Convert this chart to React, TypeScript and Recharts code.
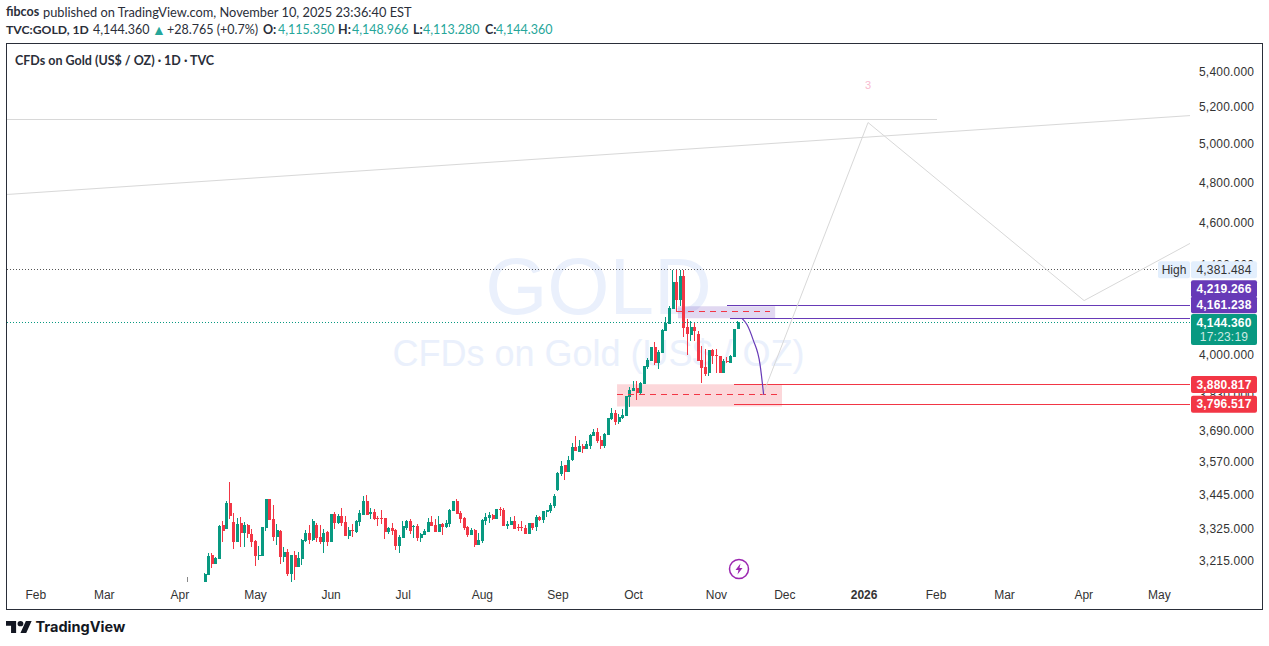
import React from "react";
import { ComposedChart, Bar, Line, XAxis, YAxis, ReferenceLine, ReferenceArea } from "recharts";

const opens = [3146,3169,3237,3206,3223,3341,3327,3420,3351,3282,3348,3313,3341,3310,3285,3233,3233,3331,3434,3362,3299,3320,3230,3247,3172,3237,3196,3223,3285,3313,3289,3341,3299,3282,3317,3282,3380,3348,3373,3351,3303,3324,3317,3351,3379,3430,3380,3387,3366,3366,3366,3317,3331,3324,3268,3296,3331,3355,3334,3337,3296,3306,3317,3351,3341,3317,3344,3334,3344,3391,3427,3384,3366,3334,3306,3324,3271,3285,3355,3366,3377,3362,3398,3394,3337,3341,3355,3334,3334,3331,3310,3348,3334,3369,3359,3387,3391,3409,3470,3526,3560,3537,3579,3632,3612,3636,3624,3636,3671,3687,3656,3636,3675,3738,3762,3726,3742,3750,3826,3851,3863,3846,3881,3951,3976,4036,3968,4010,4104,4134,4201,4323,4241,4351,4121,4087,4121,4091,3980,3951,3926,4023,4002,3998,3926,3976,3968,3993,4115.35];
const highs = [3176,3244,3244,3230,3341,3355,3427,3497,3384,3366,3369,3351,3344,3327,3289,3268,3334,3434,3434,3412,3344,3324,3264,3257,3237,3250,3247,3292,3324,3341,3362,3348,3341,3327,3320,3380,3387,3380,3402,3373,3334,3344,3359,3394,3445,3449,3402,3398,3373,3394,3366,3334,3348,3327,3306,3355,3359,3362,3341,3344,3313,3327,3366,3373,3362,3373,3348,3359,3398,3430,3434,3391,3369,3337,3331,3327,3313,3362,3384,3387,3380,3398,3405,3402,3355,3369,3373,3344,3355,3341,3348,3348,3377,3373,3391,3394,3420,3452,3537,3575,3560,3597,3644,3671,3656,3640,3652,3679,3699,3703,3671,3683,3742,3785,3774,3758,3781,3830,3867,3892,3892,3888,3955,3989,4036,4057,4023,4112,4165,4214,4378,4378,4378,4381,4157,4148,4143,4104,4040,4027,4023,4027,4027,3998,3985,3993,4002,4112,4148.966];
const lows = [3146,3169,3193,3206,3223,3282,3327,3362,3257,3282,3264,3264,3296,3264,3199,3219,3233,3320,3359,3285,3271,3206,3213,3166,3146,3152,3196,3203,3282,3275,3285,3282,3275,3244,3268,3282,3327,3344,3337,3303,3292,3299,3313,3337,3377,3377,3362,3359,3337,3344,3292,3310,3306,3254,3244,3296,3324,3310,3296,3285,3282,3306,3317,3337,3317,3317,3306,3331,3334,3391,3380,3348,3324,3299,3306,3264,3271,3278,3341,3348,3359,3362,3373,3337,3327,3341,3327,3320,3320,3310,3310,3324,3320,3355,3348,3369,3384,3402,3466,3522,3507,3537,3575,3616,3612,3608,3624,3624,3671,3644,3624,3628,3675,3734,3714,3718,3738,3750,3789,3851,3814,3842,3881,3943,3976,3959,3943,4010,4104,4134,4201,4188,4214,4078,4002,4061,4061,3976,3885,3914,3914,3963,3926,3926,3926,3968,3968,3993,4113.28];
const closes = [3172,3233,3206,3226,3337,3320,3420,3373,3282,3344,3313,3341,3310,3282,3233,3237,3334,3434,3359,3299,3324,3230,3247,3172,3237,3196,3226,3289,3313,3289,3355,3296,3282,3313,3282,3380,3348,3373,3348,3303,3324,3320,3355,3384,3430,3377,3387,3362,3362,3362,3317,3331,3320,3268,3299,3337,3355,3320,3337,3296,3310,3320,3351,3337,3317,3344,3334,3348,3394,3427,3380,3362,3331,3306,3324,3271,3289,3359,3369,3377,3362,3398,3394,3337,3344,3355,3327,3331,3331,3310,3348,3331,3369,3359,3391,3394,3412,3445,3530,3556,3537,3582,3632,3616,3636,3624,3640,3675,3687,3652,3636,3679,3742,3762,3726,3746,3754,3830,3855,3863,3846,3884,3955,3980,4036,3968,4015,4108,4139,4205,4323,4241,4351,4117,4091,4121,4104,3976,3947,3922,4023,3998,3998,3926,3976,3972,3998,4112,4144.36];

const rows = opens.map((o, k) => {
  const c = closes[k];
  return { i: k + 1, up: c >= o, wick: [lows[k], highs[k]], body: [Math.min(o, c), Math.max(o, c)] };
});

const monthTicks = [-46, -27, -6, 15, 36, 56, 78, 99, 120, 143, 162, 184, 204, 223, 245, 266];
const monthLabels = ["Feb", "Mar", "Apr", "May", "Jun", "Jul", "Aug", "Sep", "Oct", "Nov", "Dec", "2026", "Feb", "Mar", "Apr", "May"];
const priceTicks = [5400, 5200, 5000, 4800, 4600, 4400, 4000, 3830, 3690, 3570, 3445, 3325, 3215];
const xDomain = [-54, 274.5];
const yDomain = [3142.7, 5560];

const arcPoints = [
  { i: 150.1, arc: 4161 }, { i: 151.5, arc: 4133 }, { i: 153.2, arc: 4067 }, { i: 155.1, arc: 3963 }, { i: 156.1, arc: 3838 },
];
const zigPoints = [
  { i: 155.9, zig: 3838 }, { i: 185.1, zig: 5121 }, { i: 245.1, zig: 4240 }, { i: 274.5, zig: 4505 },
];

const GREEN = "#089981";
const RED = "#f23645";
const PURPLE = "#673ab7";
const GREY = "#d8d8d8";
const TEAL = "#26a69a";
const FONT = "'Liberation Sans', Arial, sans-serif";
const HEAD = "Lato, sans-serif";

const fmt = (v: number) => v.toLocaleString("en-US", { minimumFractionDigits: 3, maximumFractionDigits: 3 });

function Candle(props: any) {
  const { x, y, width, height, up, wide } = props;
  const left = Math.round(x + width / 2 - 1.5);
  const top = Math.round(y);
  const h = Math.max(1, Math.round(y + height) - top);
  return <rect x={wide ? left : left + 1} y={top} width={wide ? 3 : 1} height={h} fill={up ? GREEN : RED} />;
}

function MonthTick({ x, y, payload }: any) {
  const label = monthLabels[monthTicks.indexOf(payload.value)];
  return (
    <text x={x} y={y} dy={8} textAnchor="middle" fontFamily={FONT} fontSize={12} fill="#333" fontWeight={label === "2026" ? 700 : 400}>
      {label}
    </text>
  );
}

function PriceTick({ x, y, payload }: any) {
  return (
    <text x={x + 1} y={y} dy={3} textAnchor="start" fontFamily={FONT} fontSize={12} letterSpacing={0.2} fill="#333">
      {fmt(payload.value)}
    </text>
  );
}

function tag(lines: string[], fill: string, top: number, height: number, second?: string) {
  return ({ viewBox }: any) => {
    const x = viewBox.x + viewBox.width + 1;
    const y = viewBox.y + top;
    return (
      <g>
        <rect x={x} y={y} width={66} height={height} rx={2} fill={fill} />
        {lines.map((t, k) => (
          <text key={k} x={x + 33} y={y + 12.5 + k * 14} textAnchor="middle" fontFamily={FONT} fontSize={12} letterSpacing={0.2} fontWeight={k === 0 ? 700 : 400} fill={k === 1 && second ? second : "#fff"}>
            {t}
          </text>
        ))}
      </g>
    );
  };
}

function HighTag({ viewBox }: any) {
  const r = viewBox.x + viewBox.width;
  const y = viewBox.y - 8.5;
  return (
    <g>
      <rect x={r - 32} y={y} width={32} height={17} rx={2} fill="#e3effd" />
      <text x={r - 16} y={y + 12.5} textAnchor="middle" fontFamily={FONT} fontSize={12} fill="#333">High</text>
      <rect x={r + 1} y={y} width={66} height={17} rx={2} fill="#e3effd" />
      <text x={r + 34} y={y + 12.5} textAnchor="middle" fontFamily={FONT} fontSize={12} letterSpacing={0.2} fill="#333">4,381.484</text>
    </g>
  );
}

const crisp = { shapeRendering: "crispEdges" } as any;
const Hdr = ({ left, top, children, bold, color, size = 12.5 }: any) => (
  <span style={{ position: "absolute", left, top, fontFamily: HEAD, fontSize: size, lineHeight: "18px", whiteSpace: "nowrap", fontWeight: bold ? 700 : 400, color }}>{children}</span>
);

export default function App() {
  const ax = { xAxisId: "body", yAxisId: "p" } as const;
  return (
    <div style={{ position: "fixed", left: 0, top: 0, width: 1269, height: 646, background: "#fff", overflow: "hidden", color: "#2a2e39" }}>
      <Hdr left={6} top={3} bold>fibcos</Hdr>
      <Hdr left={43} top={3} size={12.8}>published on TradingView.com, November 10, 2025 23:36:40 EST</Hdr>
      <Hdr left={6} top={21} bold size={12.2}>TVC:GOLD, 1D</Hdr>
      <Hdr left={93} top={21}>4,144.360</Hdr>
      <Hdr left={152} top={21} color={TEAL} size={14}>▲</Hdr>
      <Hdr left={167} top={21}>+28.765 (+0.7%)</Hdr>
      <Hdr left={263} top={21} bold>O:</Hdr>
      <Hdr left={278} top={21} color={TEAL}>4,115.350</Hdr>
      <Hdr left={338} top={21} bold>H:</Hdr>
      <Hdr left={352} top={21} color={TEAL}>4,148.966</Hdr>
      <Hdr left={413} top={21} bold>L:</Hdr>
      <Hdr left={423} top={21} color={TEAL}>4,113.280</Hdr>
      <Hdr left={485} top={21} bold>C:</Hdr>
      <Hdr left={496} top={21} color={TEAL}>4,144.360</Hdr>

      <div style={{ position: "absolute", left: 6, top: 43, width: 1255, height: 565, border: "1px solid #2a2e39" }} />
      <div style={{ position: "absolute", left: 7, width: 1183, top: 240, textAlign: "center", fontFamily: FONT, fontSize: 80, lineHeight: "94px", color: "#eaf0fc" }}>GOLD</div>
      <div style={{ position: "absolute", left: 7, width: 1183, top: 332, textAlign: "center", fontFamily: FONT, fontSize: 36, lineHeight: "44px", color: "#eaf0fc" }}>CFDs on Gold (US$ / OZ)</div>
      <div style={{ position: "absolute", left: 15, top: 52, fontFamily: HEAD, fontSize: 12.5, fontWeight: 700, lineHeight: "17px" }}>CFDs on Gold (US$ / OZ) · 1D · TVC</div>
      <div style={{ position: "absolute", left: 865, top: 79, fontFamily: FONT, fontSize: 11, color: "#f8bbd0" }}>3</div>

      <div style={{ position: "absolute", left: 7, top: 45 }}>
        <ComposedChart width={1255} height={566} data={rows} margin={{ top: 0, right: 0, bottom: 0, left: 0 }} style={{ background: "transparent" }}>
          <XAxis xAxisId="body" dataKey="i" type="number" domain={xDomain} allowDataOverflow ticks={monthTicks} interval={0} height={28} axisLine={false} tickLine={false} tick={<MonthTick />} />
          <XAxis xAxisId="wick" dataKey="i" type="number" domain={xDomain} allowDataOverflow hide />
          <YAxis yAxisId="p" orientation="right" scale="log" domain={yDomain} allowDataOverflow ticks={priceTicks} interval={0} width={72} axisLine={false} tickLine={false} tick={<PriceTick />} />

          <ReferenceArea {...ax} x1={115.4} x2={161.2} y1={3880} y2={3790} fill={RED} fillOpacity={0.2} stroke="none" ifOverflow="hidden" />
          <ReferenceArea {...ax} x1={132.3} x2={159.3} y1={4215} y2={4161} fill={PURPLE} fillOpacity={0.2} stroke="none" ifOverflow="hidden" />

          <Bar xAxisId="wick" yAxisId="p" dataKey="wick" barSize={1} isAnimationActive={false} shape={<Candle />} />
          <Bar xAxisId="body" yAxisId="p" dataKey="body" barSize={3} isAnimationActive={false} shape={<Candle wide />} />

          <ReferenceLine {...ax} segment={[{ x: -54, y: 4381.484 }, { x: 266, y: 4381.484 }]} stroke="#555" strokeDasharray="1 2" ifOverflow="hidden" {...crisp} />
          <ReferenceLine {...ax} y={4144.36} stroke={GREEN} strokeDasharray="1 2" ifOverflow="hidden" {...crisp} />
          <ReferenceLine {...ax} segment={[{ x: -54, y: 5135 }, { x: 204.3, y: 5135 }]} stroke={GREY} ifOverflow="hidden" {...crisp} />
          <ReferenceLine {...ax} segment={[{ x: -54, y: 4745 }, { x: 274.5, y: 5159 }]} stroke={GREY} ifOverflow="hidden" />
          <ReferenceLine {...ax} segment={[{ x: 145.9, y: 4219.266 }, { x: 274.5, y: 4219.266 }]} stroke={PURPLE} ifOverflow="hidden" {...crisp} />
          <ReferenceLine {...ax} segment={[{ x: 146.8, y: 4161.238 }, { x: 274.5, y: 4161.238 }]} stroke={PURPLE} ifOverflow="hidden" {...crisp} />
          <ReferenceLine {...ax} segment={[{ x: 147.9, y: 3880.817 }, { x: 274.5, y: 3880.817 }]} stroke={RED} ifOverflow="hidden" {...crisp} />
          <ReferenceLine {...ax} segment={[{ x: 147.9, y: 3796.517 }, { x: 274.5, y: 3796.517 }]} stroke={RED} ifOverflow="hidden" {...crisp} />
          <ReferenceLine {...ax} segment={[{ x: 132, y: 4191 }, { x: 157.9, y: 4191 }]} stroke={RED} strokeDasharray="6 5" ifOverflow="hidden" {...crisp} />
          <ReferenceLine {...ax} segment={[{ x: 115.4, y: 3838 }, { x: 161.2, y: 3838 }]} stroke={RED} strokeDasharray="6 5" ifOverflow="hidden" {...crisp} />
          <ReferenceLine {...ax} segment={[{ x: -4, y: 3146 }, { x: -4, y: 3163 }]} stroke="#888" ifOverflow="hidden" {...crisp} />

          <Line {...ax} data={zigPoints} dataKey="zig" stroke={GREY} strokeWidth={1} dot={false} isAnimationActive={false} legendType="none" />
          <Line {...ax} data={arcPoints} dataKey="arc" type="monotone" stroke={PURPLE} strokeWidth={1.2} dot={false} isAnimationActive={false} legendType="none" />
        </ComposedChart>
      </div>

      <div style={{ position: "absolute", left: 7, top: 45 }}>
        <ComposedChart width={1255} height={566} data={rows} margin={{ top: 0, right: 0, bottom: 0, left: 0 }} style={{ background: "transparent" }}>
          <XAxis xAxisId="body" dataKey="i" type="number" domain={xDomain} allowDataOverflow height={28} axisLine={false} tickLine={false} tick={false} />
          <YAxis yAxisId="p" orientation="right" scale="log" domain={yDomain} allowDataOverflow width={72} axisLine={false} tickLine={false} tick={false} />
          <ReferenceLine {...ax} y={4381.484} stroke="none" label={<HighTag />} />
          <ReferenceLine {...ax} y={4219.266} stroke="none" label={tag(["4,219.266"], PURPLE, -25, 17)} />
          <ReferenceLine {...ax} y={4161.238} stroke="none" label={tag(["4,161.238"], PURPLE, -22, 17)} />
          <ReferenceLine {...ax} y={4144.36} stroke="none" label={tag(["4,144.360", "17:23:19"], GREEN, -8, 31, "#cde9e3")} />
          <ReferenceLine {...ax} y={3880.817} stroke="none" label={tag(["3,880.817"], RED, -8, 17)} />
          <ReferenceLine {...ax} y={3796.517} stroke="none" label={tag(["3,796.517"], RED, -9, 17)} />
        </ComposedChart>
      </div>

      <svg style={{ position: "absolute", left: 728, top: 558 }} width={22} height={22}>
        <circle cx={11} cy={11} r={9.5} fill="#fff" stroke="#9c27b0" strokeWidth={1.5} />
        <path d="M12.5 5.5 L7.5 12 H10.5 L9.5 16.5 L14.5 10 H11.5 Z" fill="#9c27b0" />
      </svg>
      <svg style={{ position: "absolute", left: 6, top: 621 }} width={26} height={12} viewBox="0 4 36 18" preserveAspectRatio="none">
        <path d="M14 22H7V11H0V4h14v18zM28 22h-8l7.5-18h8L28 22z" fill="#131722" />
        <circle cx={20} cy={8} r={4} fill="#131722" />
      </svg>
      <div style={{ position: "absolute", left: 35.5, top: 617, fontFamily: "Inter, sans-serif", fontWeight: 700, fontSize: 14.5, lineHeight: "20px", color: "#131722" }}>TradingView</div>
    </div>
  );
}
